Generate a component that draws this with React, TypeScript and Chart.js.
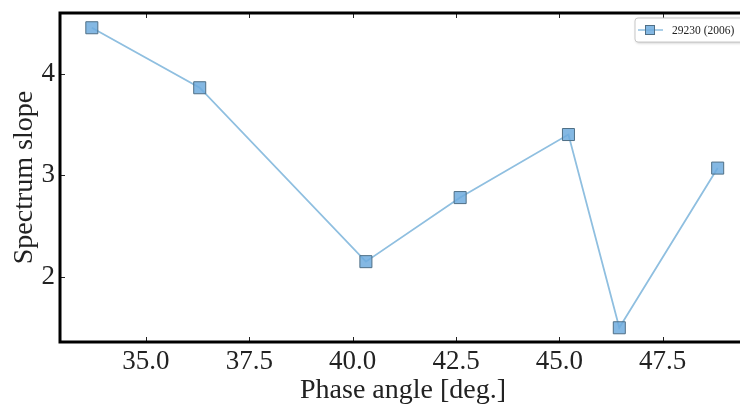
import React, { useEffect, useRef } from "react";
import { Chart, registerables } from "chart.js";

Chart.register(...registerables);

const phaseAngle = [33.69, 36.3, 40.32, 42.6, 45.22, 46.45, 48.83];
const spectrumSlope = [4.45, 3.86, 2.15, 2.78, 3.4, 1.5, 3.07];
const xTicks = [35.0, 37.5, 40.0, 42.5, 45.0, 47.5];
const yTicks = [2, 3, 4];
const seriesLabel = "29230 (2006)";
const xTitle = "Phase angle [deg.]";
const yTitle = "Spectrum slope";

const FONT = "'Liberation Serif', 'DejaVu Serif', serif";
const LINE_COLOR = "#8fbfe0";
const MARKER_FILL = "rgba(110,172,222,0.85)";
const MARKER_BORDER = "#4f6f86";

const framePlugin = {
  id: "frame",
  afterDraw(chart: any) {
    const { ctx, chartArea } = chart;
    const { left, right, top, bottom } = chartArea;
    const xs = chart.scales.x;
    const ys = chart.scales.y;
    ctx.save();
    // ticks (inward)
    ctx.strokeStyle = "#222";
    ctx.lineWidth = 1;
    ctx.beginPath();
    xTicks.forEach((v) => {
      const px = Math.round(xs.getPixelForValue(v)) + 0.5;
      ctx.moveTo(px, bottom);
      ctx.lineTo(px, bottom - 5);
      ctx.moveTo(px, top);
      ctx.lineTo(px, top + 5);
    });
    yTicks.forEach((v) => {
      const py = Math.round(ys.getPixelForValue(v)) + 0.5;
      ctx.moveTo(left, py);
      ctx.lineTo(left + 5, py);
    });
    ctx.stroke();
    // frame (left, top, bottom)
    ctx.strokeStyle = "#000";
    ctx.lineWidth = 3;
    ctx.beginPath();
    ctx.moveTo(right + 5, top);
    ctx.lineTo(left, top);
    ctx.lineTo(left, bottom);
    ctx.lineTo(right + 5, bottom);
    ctx.stroke();

    // axis titles
    ctx.fillStyle = "#222";
    ctx.font = `28px ${FONT}`;
    ctx.textAlign = "center";
    ctx.textBaseline = "alphabetic";
    ctx.fillText(xTitle, 403, 398);
    ctx.save();
    ctx.translate(32, (top + bottom) / 2);
    ctx.rotate(-Math.PI / 2);
    ctx.fillText(yTitle, 0, 0);
    ctx.restore();

    // legend
    const lx = 635, ly = 18, lw = 108, lh = 24;
    ctx.shadowColor = "rgba(0,0,0,0.25)";
    ctx.shadowBlur = 3;
    ctx.shadowOffsetX = 1;
    ctx.shadowOffsetY = 1;
    ctx.fillStyle = "#fff";
    ctx.beginPath();
    ctx.roundRect(lx, ly, lw, lh, 3);
    ctx.fill();
    ctx.shadowColor = "transparent";
    ctx.strokeStyle = "#c8c8c8";
    ctx.lineWidth = 1;
    ctx.stroke();
    const cy = ly + lh / 2;
    ctx.strokeStyle = LINE_COLOR;
    ctx.lineWidth = 1.5;
    ctx.beginPath();
    ctx.moveTo(638, cy);
    ctx.lineTo(663, cy);
    ctx.stroke();
    ctx.fillStyle = MARKER_FILL;
    ctx.strokeStyle = MARKER_BORDER;
    ctx.lineWidth = 1;
    ctx.fillRect(645, cy - 5, 10, 10);
    ctx.strokeRect(645.5, cy - 4.5, 9, 9);
    ctx.fillStyle = "#222";
    ctx.font = `11.5px ${FONT}`;
    ctx.textAlign = "left";
    ctx.textBaseline = "middle";
    ctx.fillText(seriesLabel, 672, cy + 1);
    ctx.restore();
  },
};

export default function App() {
  const ref = useRef<HTMLCanvasElement>(null);
  useEffect(() => {
    document.body.style.margin = "0";
    const canvas = ref.current!;
    const chart = new Chart(canvas, {
      type: "scatter",
      data: {
        datasets: [
          {
            label: seriesLabel,
            data: phaseAngle.map((x, i) => ({ x, y: spectrumSlope[i] })),
            showLine: true,
            borderColor: LINE_COLOR,
            borderWidth: 1.8,
            backgroundColor: MARKER_FILL,
            pointBackgroundColor: MARKER_FILL,
            pointBorderColor: MARKER_BORDER,
            pointBorderWidth: 1,
            pointStyle: "rect",
            pointRadius: 8.5,
            pointHoverRadius: 8.5,
          },
        ],
      },
      options: {
        responsive: false,
        animation: false,
        layout: { autoPadding: false, padding: { top: 13, left: 0, right: 0, bottom: 0 } },
        plugins: { legend: { display: false }, tooltip: { enabled: false } },
        scales: {
          x: {
            type: "linear",
            min: 32.92,
            max: 49.37,
            grid: { display: false, drawTicks: false },
            border: { display: false },
            afterFit: (s: any) => {
              s.height = 63;
              s.paddingLeft = 0;
              s.paddingRight = 0;
            },
            afterBuildTicks: (s: any) => {
              s.ticks = xTicks.map((v) => ({ value: v }));
            },
            ticks: {
              padding: 4,
              color: "#222",
              font: { family: FONT, size: 27 },
              callback: (v: any) => Number(v).toFixed(1),
            },
          },
          y: {
            type: "linear",
            min: 1.36,
            max: 4.595,
            grid: { display: false, drawTicks: false },
            border: { display: false },
            afterFit: (s: any) => {
              s.width = 60;
              s.paddingTop = 0;
              s.paddingBottom = 0;
            },
            afterBuildTicks: (s: any) => {
              s.ticks = yTicks.map((v) => ({ value: v }));
            },
            ticks: {
              padding: 5,
              color: "#222",
              font: { family: FONT, size: 27 },
              callback: (v: any) => String(v),
            },
          },
        },
      },
      plugins: [framePlugin],
    });
    return () => chart.destroy();
  }, []);
  return (
    <div style={{ position: "absolute", left: 0, top: 0, width: 740, height: 405 }}>
      <canvas ref={ref} width={740} height={405} style={{ display: "block" }} />
    </div>
  );
}
